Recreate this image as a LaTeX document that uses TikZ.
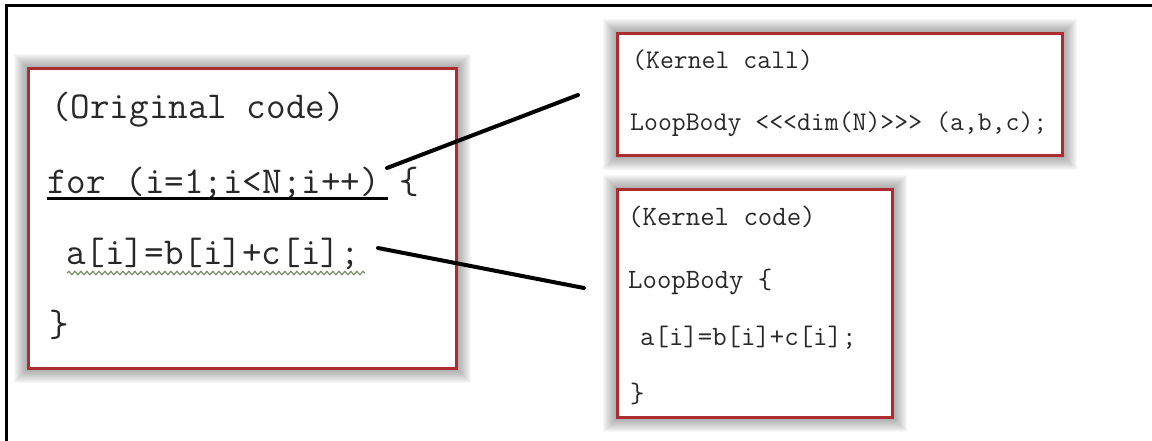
\documentclass[tikz,border=0pt]{standalone}
\usepackage{fontspec}
\usetikzlibrary{backgrounds,decorations.pathmorphing}
\definecolor{boxred}{RGB}{172,44,48}
\definecolor{squiggle}{RGB}{120,140,105}
\definecolor{ink}{RGB}{40,40,40}
\tikzset{
  codebox/.style={draw=boxred, line width=3pt, fill=white, rectangle, inner sep=0pt},
  halo/.style={draw=black!70, opacity=0.04},
  bigcode/.style={anchor=base west, inner sep=0pt, text=ink, font=\ttfamily\fontsize{38}{38}\selectfont},
  callcode/.style={anchor=base west, inner sep=0pt, text=ink, font=\ttfamily\fontsize{27}{27}\selectfont},
  smallcode/.style={anchor=base west, inner sep=0pt, text=ink, font=\ttfamily\fontsize{28}{28}\selectfont},
  link/.style={line width=4pt, line cap=round, black},
  frame/.style={line width=3pt, black}
}
% soft grey glow round a box: stacked translucent strokes of growing width
\newcommand\glowbox[1]{%
  \foreach \w in {2,4,...,26}
    \draw[halo, line width=\w pt] (#1.south west) rectangle (#1.north east);}
\begin{document}
\begin{tikzpicture}[x=1pt,y=-1pt]
\useasboundingbox (0,0) rectangle (1152,440);

% boxes
\node[codebox, minimum width=428pt, minimum height=300pt] (orig) at (242,218) {};
\node[codebox, minimum width=445pt, minimum height=122pt] (kcall) at (839.5,94) {};
\node[codebox, minimum width=275pt, minimum height=228pt] (kcode) at (754.5,303) {};

\begin{scope}[on background layer]
  \fill[white] (0,0) rectangle (1152,440);
  \glowbox{orig}
  \glowbox{kcall}
  \glowbox{kcode}
\end{scope}

% outer frame (top and left edges)
\coordinate (ftl) at (6,5);
\coordinate (ftr) at (1154,5);
\coordinate (fbl) at (6,442);
\draw[frame] (ftr) -- (ftl) -- (fbl);

% original code
\node[bigcode] (o1) at (51,118) {(Original code)};
\node[bigcode] (o2) at (47,193) {for (i=1;i<N;i++) \{};
\node[bigcode] (o3) at (66,264) {a[i]=b[i]+c[i];};
\node[bigcode] (o4) at (49,336) {\}};
\draw[line width=3.5pt, black] (47,198.5) -- (388,198.5);
\draw[squiggle, line width=1.2pt, decorate,
  decoration={snake, segment length=6pt, amplitude=1.6pt}] (67,273) -- (365,273);

% kernel call
\node[callcode] (c1) at (632,68) {(Kernel call)};
\node[callcode] (c2) at (630,130) {LoopBody <<<dim(N)>>> (a,b,c);};

% kernel code
\node[smallcode] (k1) at (628,225) {(Kernel code)};
\node[smallcode] (k2) at (628,288) {LoopBody \{};
\node[smallcode] (k3) at (640,345) {a[i]=b[i]+c[i];};
\node[smallcode] (k4) at (630,402) {\}};

% connectors
\coordinate (l1a) at (387,168);
\coordinate (l1b) at (578,95);
\coordinate (l2a) at (378,248);
\coordinate (l2b) at (584,288);
\draw[link] (l1a) -- (l1b);
\draw[link] (l2a) -- (l2b);
\end{tikzpicture}
\end{document}
